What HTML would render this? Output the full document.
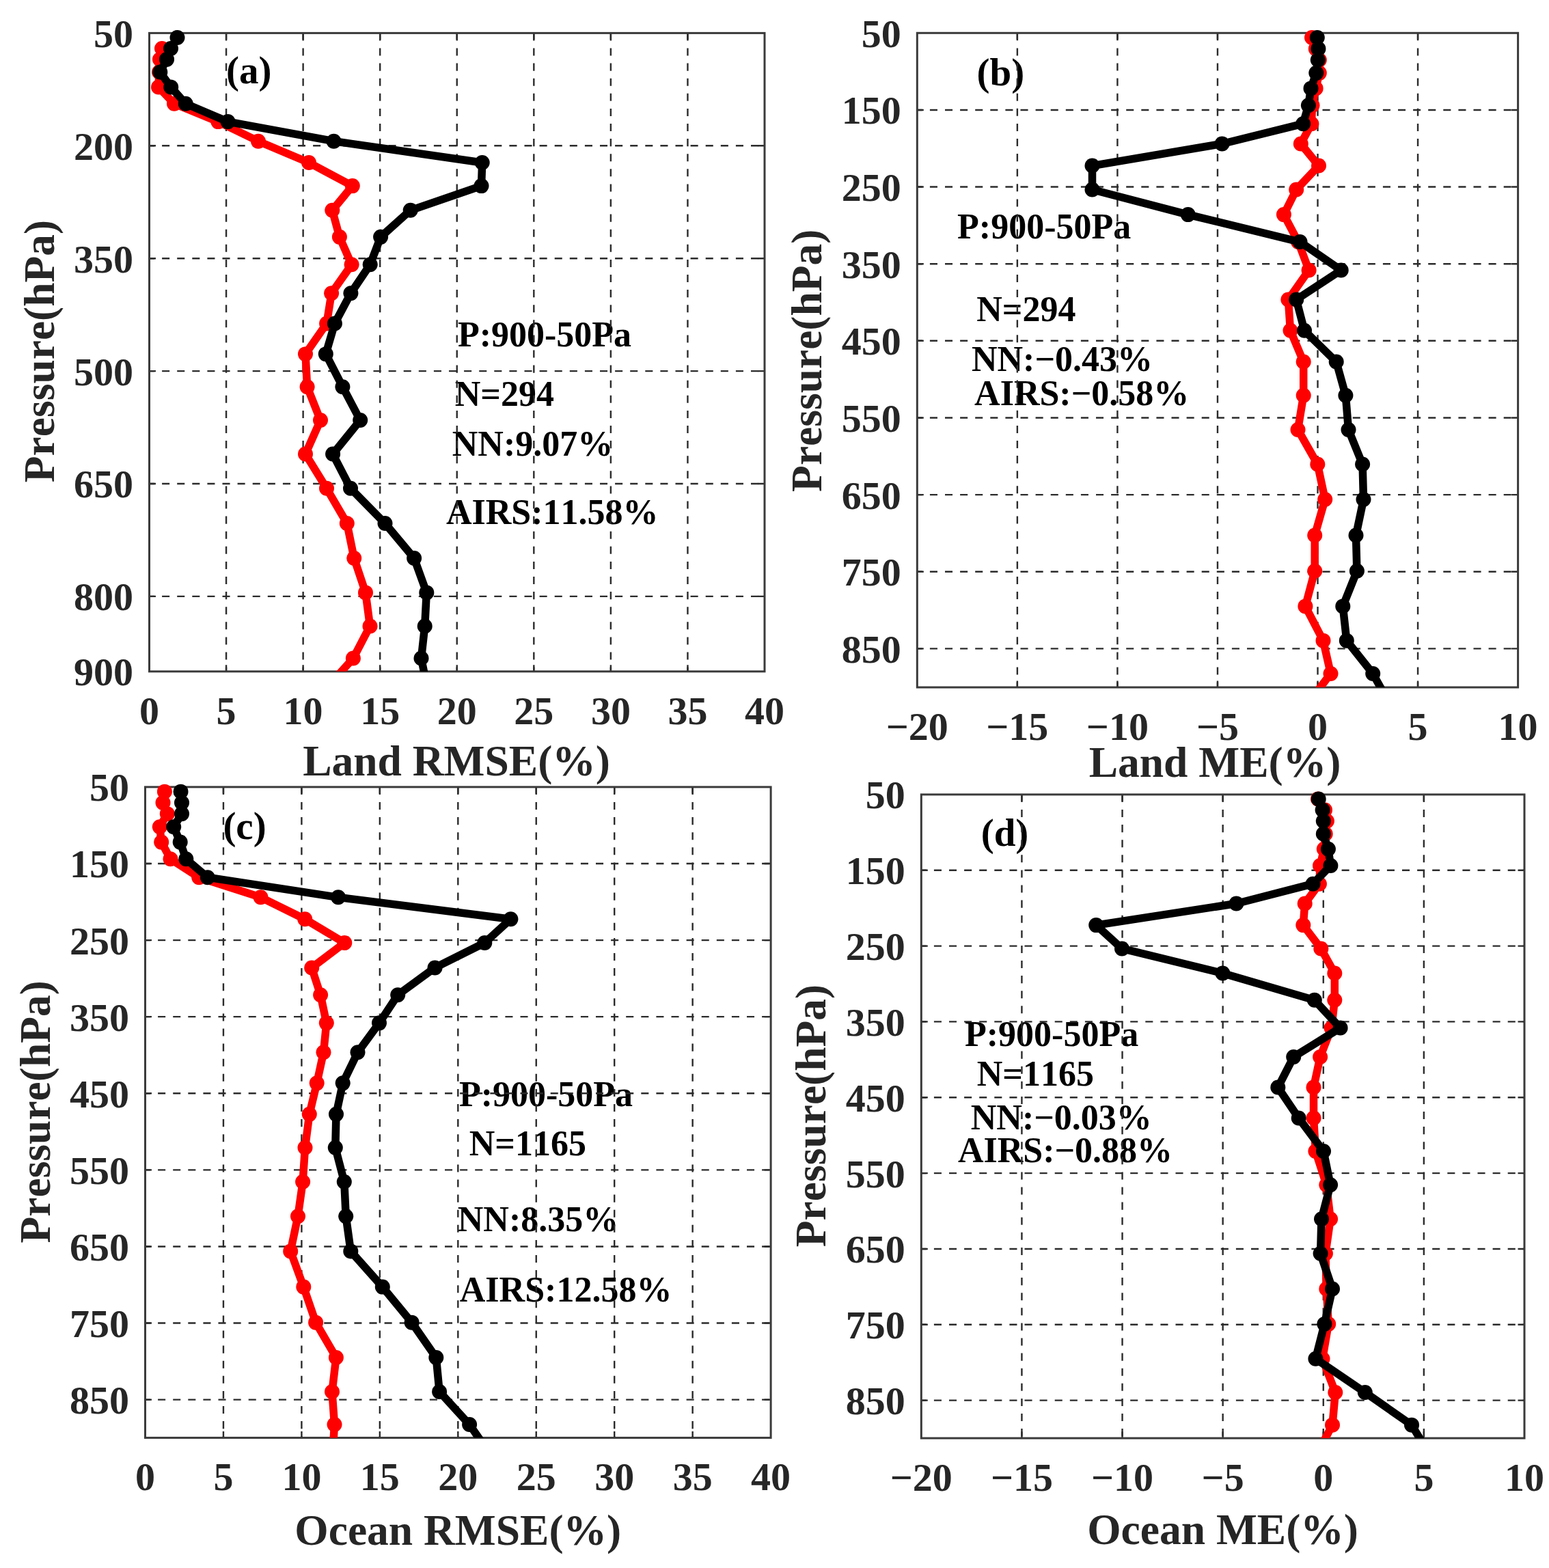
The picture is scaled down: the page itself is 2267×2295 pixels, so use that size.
<!DOCTYPE html>
<html><head><meta charset="utf-8"><title>Figure</title><style>
html,body{margin:0;padding:0;background:#fff;}
body{width:2267px;height:2295px;overflow:hidden;}
svg{display:block;}
text{font-family:"Liberation Serif","Times New Roman",serif;font-weight:bold;font-kerning:none;}
.ann{font-size:52px;fill:#000;}
.pl{font-size:57px;fill:#000;}
.tk{font-size:58px;fill:#262626;}
.ax{font-size:63.5px;fill:#262626;}
.grid{stroke:#2b2b2b;stroke-width:2.4;stroke-dasharray:11.05 11.05;fill:none;}
.gh{stroke-dashoffset:3.5;}
.tick{stroke:#2b2b2b;stroke-width:2.4;fill:none;}
.box{stroke:#3a3a3a;stroke-width:3;fill:none;}
</style></head>
<body>
<svg width="2267" height="2295" viewBox="0 0 2267 2295">
<rect x="0" y="0" width="2267" height="2295" fill="#ffffff"/>
<defs>
<clipPath id="clipa"><rect x="218.5" y="48.4" width="900.5" height="934.4"/></clipPath>
<clipPath id="clipb"><rect x="1342.3" y="48.3" width="879.3" height="957.7"/></clipPath>
<clipPath id="clipc"><rect x="212.5" y="1151.9" width="915.6" height="952.5"/></clipPath>
<clipPath id="clipd"><rect x="1348.3" y="1162.9" width="882.7" height="942.1"/></clipPath>
</defs>
<g id="panela"><text x="669.91" y="506.7" class="ann">P:900-50Pa</text>
<text x="665.81" y="594.4" class="ann">N=294</text>
<text x="661.81" y="667" class="ann">NN:9.07%</text>
<text x="652.9" y="766.6" class="ann">AIRS:11.58%</text>
<text x="331.1" y="122.46" class="pl">(a)</text>
<line x1="331.06" y1="48.4" x2="331.06" y2="982.8" class="grid gv"/>
<line x1="443.62" y1="48.4" x2="443.62" y2="982.8" class="grid gv"/>
<line x1="556.19" y1="48.4" x2="556.19" y2="982.8" class="grid gv"/>
<line x1="668.75" y1="48.4" x2="668.75" y2="982.8" class="grid gv"/>
<line x1="781.31" y1="48.4" x2="781.31" y2="982.8" class="grid gv"/>
<line x1="893.88" y1="48.4" x2="893.88" y2="982.8" class="grid gv"/>
<line x1="1006.44" y1="48.4" x2="1006.44" y2="982.8" class="grid gv"/>
<line x1="218.5" y1="213.29" x2="1119" y2="213.29" class="grid gh"/>
<line x1="218.5" y1="378.19" x2="1119" y2="378.19" class="grid gh"/>
<line x1="218.5" y1="543.09" x2="1119" y2="543.09" class="grid gh"/>
<line x1="218.5" y1="707.98" x2="1119" y2="707.98" class="grid gh"/>
<line x1="218.5" y1="872.87" x2="1119" y2="872.87" class="grid gh"/>
<path d="M331.06 982.8V973.3M331.06 48.4V57.9M443.62 982.8V973.3M443.62 48.4V57.9M556.19 982.8V973.3M556.19 48.4V57.9M668.75 982.8V973.3M668.75 48.4V57.9M781.31 982.8V973.3M781.31 48.4V57.9M893.88 982.8V973.3M893.88 48.4V57.9M1006.44 982.8V973.3M1006.44 48.4V57.9M218.5 213.29H228M1119 213.29H1109.5M218.5 378.19H228M1119 378.19H1109.5M218.5 543.09H228M1119 543.09H1109.5M218.5 707.98H228M1119 707.98H1109.5M218.5 872.87H228M1119 872.87H1109.5" class="tick"/>
<rect x="218.5" y="48.4" width="900.5" height="934.4" class="box"/>
<polyline points="237,70.94 234,86.88 233,105.56 232,127.55 255,151.73 319.3,178.12 378,206.7 452,238.03 515.8,272.11 486.3,307.83 496.9,346.86 514.6,387.2 485.1,429.31 478.1,473.5 447,518.13 449.6,566.17 469,615.09 447,664.56 478,714.8 507.8,766.02 518.2,817.03 535,867.38 541.5,916.41 516.9,963.57 475,1010.29" fill="none" stroke="#ff0000" stroke-width="11.5" stroke-linejoin="round" clip-path="url(#clipa)"/>
<circle cx="237" cy="70.94" r="11" fill="#ff0000"/>
<circle cx="234" cy="86.88" r="11" fill="#ff0000"/>
<circle cx="233" cy="105.56" r="11" fill="#ff0000"/>
<circle cx="232" cy="127.55" r="11" fill="#ff0000"/>
<circle cx="255" cy="151.73" r="11" fill="#ff0000"/>
<circle cx="319.3" cy="178.12" r="11" fill="#ff0000"/>
<circle cx="378" cy="206.7" r="11" fill="#ff0000"/>
<circle cx="452" cy="238.03" r="11" fill="#ff0000"/>
<circle cx="515.8" cy="272.11" r="11" fill="#ff0000"/>
<circle cx="486.3" cy="307.83" r="11" fill="#ff0000"/>
<circle cx="496.9" cy="346.86" r="11" fill="#ff0000"/>
<circle cx="514.6" cy="387.2" r="11" fill="#ff0000"/>
<circle cx="485.1" cy="429.31" r="11" fill="#ff0000"/>
<circle cx="478.1" cy="473.5" r="11" fill="#ff0000"/>
<circle cx="447" cy="518.13" r="11" fill="#ff0000"/>
<circle cx="449.6" cy="566.17" r="11" fill="#ff0000"/>
<circle cx="469" cy="615.09" r="11" fill="#ff0000"/>
<circle cx="447" cy="664.56" r="11" fill="#ff0000"/>
<circle cx="478" cy="714.8" r="11" fill="#ff0000"/>
<circle cx="507.8" cy="766.02" r="11" fill="#ff0000"/>
<circle cx="518.2" cy="817.03" r="11" fill="#ff0000"/>
<circle cx="535" cy="867.38" r="11" fill="#ff0000"/>
<circle cx="541.5" cy="916.41" r="11" fill="#ff0000"/>
<circle cx="516.9" cy="963.57" r="11" fill="#ff0000"/>
<polyline points="259.5,55 250,70.94 244,86.88 234.3,105.56 250.2,127.55 271.7,151.73 333.5,178.12 488.5,206.7 705.7,238.03 704.5,272.11 600.7,307.83 557.1,346.86 541.7,387.2 513.4,429.31 489.9,473.5 476.8,518.13 501.4,566.17 527.2,615.09 487.1,664.56 513,714.8 563.5,766.02 606.1,817.03 624.3,867.38 621.7,916.41 616.5,963.57 626,1010.29" fill="none" stroke="#000000" stroke-width="11.5" stroke-linejoin="round" clip-path="url(#clipa)"/>
<circle cx="259.5" cy="55" r="11" fill="#000000"/>
<circle cx="250" cy="70.94" r="11" fill="#000000"/>
<circle cx="244" cy="86.88" r="11" fill="#000000"/>
<circle cx="234.3" cy="105.56" r="11" fill="#000000"/>
<circle cx="250.2" cy="127.55" r="11" fill="#000000"/>
<circle cx="271.7" cy="151.73" r="11" fill="#000000"/>
<circle cx="333.5" cy="178.12" r="11" fill="#000000"/>
<circle cx="488.5" cy="206.7" r="11" fill="#000000"/>
<circle cx="705.7" cy="238.03" r="11" fill="#000000"/>
<circle cx="704.5" cy="272.11" r="11" fill="#000000"/>
<circle cx="600.7" cy="307.83" r="11" fill="#000000"/>
<circle cx="557.1" cy="346.86" r="11" fill="#000000"/>
<circle cx="541.7" cy="387.2" r="11" fill="#000000"/>
<circle cx="513.4" cy="429.31" r="11" fill="#000000"/>
<circle cx="489.9" cy="473.5" r="11" fill="#000000"/>
<circle cx="476.8" cy="518.13" r="11" fill="#000000"/>
<circle cx="501.4" cy="566.17" r="11" fill="#000000"/>
<circle cx="527.2" cy="615.09" r="11" fill="#000000"/>
<circle cx="487.1" cy="664.56" r="11" fill="#000000"/>
<circle cx="513" cy="714.8" r="11" fill="#000000"/>
<circle cx="563.5" cy="766.02" r="11" fill="#000000"/>
<circle cx="606.1" cy="817.03" r="11" fill="#000000"/>
<circle cx="624.3" cy="867.38" r="11" fill="#000000"/>
<circle cx="621.7" cy="916.41" r="11" fill="#000000"/>
<circle cx="616.5" cy="963.57" r="11" fill="#000000"/>
<text x="195" y="68.9" class="tk" text-anchor="end">50</text>
<text x="195" y="233.79" class="tk" text-anchor="end">200</text>
<text x="195" y="398.69" class="tk" text-anchor="end">350</text>
<text x="195" y="563.59" class="tk" text-anchor="end">500</text>
<text x="195" y="728.48" class="tk" text-anchor="end">650</text>
<text x="195" y="893.37" class="tk" text-anchor="end">800</text>
<text x="195" y="1003.3" class="tk" text-anchor="end">900</text>
<text x="218.5" y="1059.8" class="tk" text-anchor="middle">0</text>
<text x="331.06" y="1059.8" class="tk" text-anchor="middle">5</text>
<text x="443.62" y="1059.8" class="tk" text-anchor="middle">10</text>
<text x="556.19" y="1059.8" class="tk" text-anchor="middle">15</text>
<text x="668.75" y="1059.8" class="tk" text-anchor="middle">20</text>
<text x="781.31" y="1059.8" class="tk" text-anchor="middle">25</text>
<text x="893.88" y="1059.8" class="tk" text-anchor="middle">30</text>
<text x="1006.44" y="1059.8" class="tk" text-anchor="middle">35</text>
<text x="1119" y="1059.8" class="tk" text-anchor="middle">40</text>
<text x="668.1" y="1134.9" class="ax" text-anchor="middle">Land RMSE(%)</text>
<text transform="translate(78.8,514) rotate(-90)" x="0" y="0" class="ax" text-anchor="middle">Pressure(hPa)</text></g>
<g id="panelb"><text x="1401.11" y="349.2" class="ann">P:900-50Pa</text>
<text x="1429.31" y="469.7" class="ann">N=294</text>
<text x="1422.01" y="543.1" class="ann">NN:−0.43%</text>
<text x="1426.1" y="593.4" class="ann">AIRS:−0.58%</text>
<text x="1429.5" y="125.46" class="pl">(b)</text>
<line x1="1488.85" y1="48.3" x2="1488.85" y2="1006" class="grid gv"/>
<line x1="1635.4" y1="48.3" x2="1635.4" y2="1006" class="grid gv"/>
<line x1="1781.95" y1="48.3" x2="1781.95" y2="1006" class="grid gv"/>
<line x1="1928.5" y1="48.3" x2="1928.5" y2="1006" class="grid gv"/>
<line x1="2075.05" y1="48.3" x2="2075.05" y2="1006" class="grid gv"/>
<line x1="1342.3" y1="160.93" x2="2221.6" y2="160.93" class="grid gh"/>
<line x1="1342.3" y1="273.56" x2="2221.6" y2="273.56" class="grid gh"/>
<line x1="1342.3" y1="386.19" x2="2221.6" y2="386.19" class="grid gh"/>
<line x1="1342.3" y1="498.82" x2="2221.6" y2="498.82" class="grid gh"/>
<line x1="1342.3" y1="611.45" x2="2221.6" y2="611.45" class="grid gh"/>
<line x1="1342.3" y1="724.08" x2="2221.6" y2="724.08" class="grid gh"/>
<line x1="1342.3" y1="836.71" x2="2221.6" y2="836.71" class="grid gh"/>
<line x1="1342.3" y1="949.34" x2="2221.6" y2="949.34" class="grid gh"/>
<path d="M1488.85 1006V996.5M1488.85 48.3V57.8M1635.4 1006V996.5M1635.4 48.3V57.8M1781.95 1006V996.5M1781.95 48.3V57.8M1928.5 1006V996.5M1928.5 48.3V57.8M2075.05 1006V996.5M2075.05 48.3V57.8M1342.3 160.93H1351.8M2221.6 160.93H2212.1M1342.3 273.56H1351.8M2221.6 273.56H2212.1M1342.3 386.19H1351.8M2221.6 386.19H2212.1M1342.3 498.82H1351.8M2221.6 498.82H2212.1M1342.3 611.45H1351.8M2221.6 611.45H2212.1M1342.3 724.08H1351.8M2221.6 724.08H2212.1M1342.3 836.71H1351.8M2221.6 836.71H2212.1M1342.3 949.34H1351.8M2221.6 949.34H2212.1" class="tick"/>
<rect x="1342.3" y="48.3" width="879.3" height="957.7" class="box"/>
<polyline points="1920,55.06 1925.8,71.39 1930.8,87.72 1930.8,106.87 1925.6,129.39 1920.5,154.17 1919.4,181.2 1903.8,210.49 1930,242.59 1897.2,277.5 1878.9,314.11 1900,354.09 1915.6,395.43 1885.4,438.56 1888.5,483.84 1907.7,529.57 1907.7,578.79 1899.5,628.91 1928.3,679.59 1939.2,731.06 1924.2,783.55 1924.2,835.81 1910.4,887.39 1936.5,937.63 1947.5,985.94 1911,1033.81" fill="none" stroke="#ff0000" stroke-width="11.5" stroke-linejoin="round" clip-path="url(#clipb)"/>
<circle cx="1920" cy="55.06" r="11" fill="#ff0000"/>
<circle cx="1925.8" cy="71.39" r="11" fill="#ff0000"/>
<circle cx="1930.8" cy="87.72" r="11" fill="#ff0000"/>
<circle cx="1930.8" cy="106.87" r="11" fill="#ff0000"/>
<circle cx="1925.6" cy="129.39" r="11" fill="#ff0000"/>
<circle cx="1920.5" cy="154.17" r="11" fill="#ff0000"/>
<circle cx="1919.4" cy="181.2" r="11" fill="#ff0000"/>
<circle cx="1903.8" cy="210.49" r="11" fill="#ff0000"/>
<circle cx="1930" cy="242.59" r="11" fill="#ff0000"/>
<circle cx="1897.2" cy="277.5" r="11" fill="#ff0000"/>
<circle cx="1878.9" cy="314.11" r="11" fill="#ff0000"/>
<circle cx="1900" cy="354.09" r="11" fill="#ff0000"/>
<circle cx="1915.6" cy="395.43" r="11" fill="#ff0000"/>
<circle cx="1885.4" cy="438.56" r="11" fill="#ff0000"/>
<circle cx="1888.5" cy="483.84" r="11" fill="#ff0000"/>
<circle cx="1907.7" cy="529.57" r="11" fill="#ff0000"/>
<circle cx="1907.7" cy="578.79" r="11" fill="#ff0000"/>
<circle cx="1899.5" cy="628.91" r="11" fill="#ff0000"/>
<circle cx="1928.3" cy="679.59" r="11" fill="#ff0000"/>
<circle cx="1939.2" cy="731.06" r="11" fill="#ff0000"/>
<circle cx="1924.2" cy="783.55" r="11" fill="#ff0000"/>
<circle cx="1924.2" cy="835.81" r="11" fill="#ff0000"/>
<circle cx="1910.4" cy="887.39" r="11" fill="#ff0000"/>
<circle cx="1936.5" cy="937.63" r="11" fill="#ff0000"/>
<circle cx="1947.5" cy="985.94" r="11" fill="#ff0000"/>
<polyline points="1927.8,55.06 1929.4,71.39 1928.8,87.72 1926.3,106.87 1918.5,129.39 1914.9,154.17 1907.1,181.2 1788.5,210.49 1598.5,242.59 1598.5,277.5 1738.7,314.11 1902.5,354.09 1962.7,395.43 1897.2,438.56 1909,483.84 1955.7,529.57 1969.4,578.79 1973.5,628.91 1994.1,679.59 1995.5,731.06 1984.5,783.55 1985.9,835.81 1965.3,887.39 1970.8,937.63 2009.2,985.94 2035.8,1033.81" fill="none" stroke="#000000" stroke-width="11.5" stroke-linejoin="round" clip-path="url(#clipb)"/>
<circle cx="1927.8" cy="55.06" r="11" fill="#000000"/>
<circle cx="1929.4" cy="71.39" r="11" fill="#000000"/>
<circle cx="1928.8" cy="87.72" r="11" fill="#000000"/>
<circle cx="1926.3" cy="106.87" r="11" fill="#000000"/>
<circle cx="1918.5" cy="129.39" r="11" fill="#000000"/>
<circle cx="1914.9" cy="154.17" r="11" fill="#000000"/>
<circle cx="1907.1" cy="181.2" r="11" fill="#000000"/>
<circle cx="1788.5" cy="210.49" r="11" fill="#000000"/>
<circle cx="1598.5" cy="242.59" r="11" fill="#000000"/>
<circle cx="1598.5" cy="277.5" r="11" fill="#000000"/>
<circle cx="1738.7" cy="314.11" r="11" fill="#000000"/>
<circle cx="1902.5" cy="354.09" r="11" fill="#000000"/>
<circle cx="1962.7" cy="395.43" r="11" fill="#000000"/>
<circle cx="1897.2" cy="438.56" r="11" fill="#000000"/>
<circle cx="1909" cy="483.84" r="11" fill="#000000"/>
<circle cx="1955.7" cy="529.57" r="11" fill="#000000"/>
<circle cx="1969.4" cy="578.79" r="11" fill="#000000"/>
<circle cx="1973.5" cy="628.91" r="11" fill="#000000"/>
<circle cx="1994.1" cy="679.59" r="11" fill="#000000"/>
<circle cx="1995.5" cy="731.06" r="11" fill="#000000"/>
<circle cx="1984.5" cy="783.55" r="11" fill="#000000"/>
<circle cx="1985.9" cy="835.81" r="11" fill="#000000"/>
<circle cx="1965.3" cy="887.39" r="11" fill="#000000"/>
<circle cx="1970.8" cy="937.63" r="11" fill="#000000"/>
<circle cx="2009.2" cy="985.94" r="11" fill="#000000"/>
<text x="1318.8" y="68.8" class="tk" text-anchor="end">50</text>
<text x="1318.8" y="181.43" class="tk" text-anchor="end">150</text>
<text x="1318.8" y="294.06" class="tk" text-anchor="end">250</text>
<text x="1318.8" y="406.69" class="tk" text-anchor="end">350</text>
<text x="1318.8" y="519.32" class="tk" text-anchor="end">450</text>
<text x="1318.8" y="631.95" class="tk" text-anchor="end">550</text>
<text x="1318.8" y="744.58" class="tk" text-anchor="end">650</text>
<text x="1318.8" y="857.21" class="tk" text-anchor="end">750</text>
<text x="1318.8" y="969.84" class="tk" text-anchor="end">850</text>
<text x="1342.3" y="1083" class="tk" text-anchor="middle">−20</text>
<text x="1488.85" y="1083" class="tk" text-anchor="middle">−15</text>
<text x="1635.4" y="1083" class="tk" text-anchor="middle">−10</text>
<text x="1781.95" y="1083" class="tk" text-anchor="middle">−5</text>
<text x="1928.5" y="1083" class="tk" text-anchor="middle">0</text>
<text x="2075.05" y="1083" class="tk" text-anchor="middle">5</text>
<text x="2221.6" y="1083" class="tk" text-anchor="middle">10</text>
<text x="1778" y="1137.3" class="ax" text-anchor="middle">Land ME(%)</text>
<text transform="translate(1201.8,527.7) rotate(-90)" x="0" y="0" class="ax" text-anchor="middle">Pressure(hPa)</text></g>
<g id="panelc"><text x="671.91" y="1618.8" class="ann">P:900-50Pa</text>
<text x="686.81" y="1690.5" class="ann">N=1165</text>
<text x="669.81" y="1802" class="ann">NN:8.35%</text>
<text x="672.8" y="1904.6" class="ann">AIRS:12.58%</text>
<text x="326.4" y="1227.66" class="pl">(c)</text>
<line x1="326.95" y1="1151.9" x2="326.95" y2="2104.4" class="grid gv"/>
<line x1="441.4" y1="1151.9" x2="441.4" y2="2104.4" class="grid gv"/>
<line x1="555.85" y1="1151.9" x2="555.85" y2="2104.4" class="grid gv"/>
<line x1="670.3" y1="1151.9" x2="670.3" y2="2104.4" class="grid gv"/>
<line x1="784.75" y1="1151.9" x2="784.75" y2="2104.4" class="grid gv"/>
<line x1="899.2" y1="1151.9" x2="899.2" y2="2104.4" class="grid gv"/>
<line x1="1013.65" y1="1151.9" x2="1013.65" y2="2104.4" class="grid gv"/>
<line x1="212.5" y1="1263.99" x2="1128.1" y2="1263.99" class="grid gh"/>
<line x1="212.5" y1="1376.08" x2="1128.1" y2="1376.08" class="grid gh"/>
<line x1="212.5" y1="1488.17" x2="1128.1" y2="1488.17" class="grid gh"/>
<line x1="212.5" y1="1600.26" x2="1128.1" y2="1600.26" class="grid gh"/>
<line x1="212.5" y1="1712.35" x2="1128.1" y2="1712.35" class="grid gh"/>
<line x1="212.5" y1="1824.44" x2="1128.1" y2="1824.44" class="grid gh"/>
<line x1="212.5" y1="1936.53" x2="1128.1" y2="1936.53" class="grid gh"/>
<line x1="212.5" y1="2048.62" x2="1128.1" y2="2048.62" class="grid gh"/>
<path d="M326.95 2104.4V2094.9M326.95 1151.9V1161.4M441.4 2104.4V2094.9M441.4 1151.9V1161.4M555.85 2104.4V2094.9M555.85 1151.9V1161.4M670.3 2104.4V2094.9M670.3 1151.9V1161.4M784.75 2104.4V2094.9M784.75 1151.9V1161.4M899.2 2104.4V2094.9M899.2 1151.9V1161.4M1013.65 2104.4V2094.9M1013.65 1151.9V1161.4M212.5 1263.99H222M1128.1 1263.99H1118.6M212.5 1376.08H222M1128.1 1376.08H1118.6M212.5 1488.17H222M1128.1 1488.17H1118.6M212.5 1600.26H222M1128.1 1600.26H1118.6M212.5 1712.35H222M1128.1 1712.35H1118.6M212.5 1824.44H222M1128.1 1824.44H1118.6M212.5 1936.53H222M1128.1 1936.53H1118.6M212.5 2048.62H222M1128.1 2048.62H1118.6" class="tick"/>
<rect x="212.5" y="1151.9" width="915.6" height="952.5" class="box"/>
<polyline points="240.9,1158.63 238.5,1174.88 244.8,1191.13 233.8,1210.19 236.2,1232.6 249.5,1257.26 291.2,1284.17 381.5,1313.31 446.2,1345.26 504.3,1380 456.2,1416.43 469.1,1456.22 477.8,1497.36 473.5,1540.29 463.7,1585.35 452.8,1630.86 446.5,1679.84 443.1,1729.72 436,1780.16 425.2,1831.39 444.3,1883.62 462.1,1935.63 491.9,1986.97 486,2036.96 489.5,2085.05 486.5,2132.69" fill="none" stroke="#ff0000" stroke-width="11.5" stroke-linejoin="round" clip-path="url(#clipc)"/>
<circle cx="240.9" cy="1158.63" r="11" fill="#ff0000"/>
<circle cx="238.5" cy="1174.88" r="11" fill="#ff0000"/>
<circle cx="244.8" cy="1191.13" r="11" fill="#ff0000"/>
<circle cx="233.8" cy="1210.19" r="11" fill="#ff0000"/>
<circle cx="236.2" cy="1232.6" r="11" fill="#ff0000"/>
<circle cx="249.5" cy="1257.26" r="11" fill="#ff0000"/>
<circle cx="291.2" cy="1284.17" r="11" fill="#ff0000"/>
<circle cx="381.5" cy="1313.31" r="11" fill="#ff0000"/>
<circle cx="446.2" cy="1345.26" r="11" fill="#ff0000"/>
<circle cx="504.3" cy="1380" r="11" fill="#ff0000"/>
<circle cx="456.2" cy="1416.43" r="11" fill="#ff0000"/>
<circle cx="469.1" cy="1456.22" r="11" fill="#ff0000"/>
<circle cx="477.8" cy="1497.36" r="11" fill="#ff0000"/>
<circle cx="473.5" cy="1540.29" r="11" fill="#ff0000"/>
<circle cx="463.7" cy="1585.35" r="11" fill="#ff0000"/>
<circle cx="452.8" cy="1630.86" r="11" fill="#ff0000"/>
<circle cx="446.5" cy="1679.84" r="11" fill="#ff0000"/>
<circle cx="443.1" cy="1729.72" r="11" fill="#ff0000"/>
<circle cx="436" cy="1780.16" r="11" fill="#ff0000"/>
<circle cx="425.2" cy="1831.39" r="11" fill="#ff0000"/>
<circle cx="444.3" cy="1883.62" r="11" fill="#ff0000"/>
<circle cx="462.1" cy="1935.63" r="11" fill="#ff0000"/>
<circle cx="491.9" cy="1986.97" r="11" fill="#ff0000"/>
<circle cx="486" cy="2036.96" r="11" fill="#ff0000"/>
<circle cx="489.5" cy="2085.05" r="11" fill="#ff0000"/>
<polyline points="264.5,1158.63 266,1174.88 266,1191.13 254.2,1210.19 263.7,1232.6 272.3,1257.26 303.8,1284.17 495,1313.31 747.4,1345.26 709.3,1380 636.5,1416.43 582.2,1456.22 555,1497.36 523.5,1540.29 501.7,1585.35 492,1630.86 490.8,1679.84 503.8,1729.72 506.2,1780.16 513.3,1831.39 559.8,1883.62 602.6,1935.63 638.3,1986.97 643.1,2036.96 687.1,2085.05 720.2,2132.69" fill="none" stroke="#000000" stroke-width="11.5" stroke-linejoin="round" clip-path="url(#clipc)"/>
<circle cx="264.5" cy="1158.63" r="11" fill="#000000"/>
<circle cx="266" cy="1174.88" r="11" fill="#000000"/>
<circle cx="266" cy="1191.13" r="11" fill="#000000"/>
<circle cx="254.2" cy="1210.19" r="11" fill="#000000"/>
<circle cx="263.7" cy="1232.6" r="11" fill="#000000"/>
<circle cx="272.3" cy="1257.26" r="11" fill="#000000"/>
<circle cx="303.8" cy="1284.17" r="11" fill="#000000"/>
<circle cx="495" cy="1313.31" r="11" fill="#000000"/>
<circle cx="747.4" cy="1345.26" r="11" fill="#000000"/>
<circle cx="709.3" cy="1380" r="11" fill="#000000"/>
<circle cx="636.5" cy="1416.43" r="11" fill="#000000"/>
<circle cx="582.2" cy="1456.22" r="11" fill="#000000"/>
<circle cx="555" cy="1497.36" r="11" fill="#000000"/>
<circle cx="523.5" cy="1540.29" r="11" fill="#000000"/>
<circle cx="501.7" cy="1585.35" r="11" fill="#000000"/>
<circle cx="492" cy="1630.86" r="11" fill="#000000"/>
<circle cx="490.8" cy="1679.84" r="11" fill="#000000"/>
<circle cx="503.8" cy="1729.72" r="11" fill="#000000"/>
<circle cx="506.2" cy="1780.16" r="11" fill="#000000"/>
<circle cx="513.3" cy="1831.39" r="11" fill="#000000"/>
<circle cx="559.8" cy="1883.62" r="11" fill="#000000"/>
<circle cx="602.6" cy="1935.63" r="11" fill="#000000"/>
<circle cx="638.3" cy="1986.97" r="11" fill="#000000"/>
<circle cx="643.1" cy="2036.96" r="11" fill="#000000"/>
<circle cx="687.1" cy="2085.05" r="11" fill="#000000"/>
<text x="189" y="1172.4" class="tk" text-anchor="end">50</text>
<text x="189" y="1284.49" class="tk" text-anchor="end">150</text>
<text x="189" y="1396.58" class="tk" text-anchor="end">250</text>
<text x="189" y="1508.67" class="tk" text-anchor="end">350</text>
<text x="189" y="1620.76" class="tk" text-anchor="end">450</text>
<text x="189" y="1732.85" class="tk" text-anchor="end">550</text>
<text x="189" y="1844.94" class="tk" text-anchor="end">650</text>
<text x="189" y="1957.03" class="tk" text-anchor="end">750</text>
<text x="189" y="2069.12" class="tk" text-anchor="end">850</text>
<text x="212.5" y="2181.4" class="tk" text-anchor="middle">0</text>
<text x="326.95" y="2181.4" class="tk" text-anchor="middle">5</text>
<text x="441.4" y="2181.4" class="tk" text-anchor="middle">10</text>
<text x="555.85" y="2181.4" class="tk" text-anchor="middle">15</text>
<text x="670.3" y="2181.4" class="tk" text-anchor="middle">20</text>
<text x="784.75" y="2181.4" class="tk" text-anchor="middle">25</text>
<text x="899.2" y="2181.4" class="tk" text-anchor="middle">30</text>
<text x="1013.65" y="2181.4" class="tk" text-anchor="middle">35</text>
<text x="1128.1" y="2181.4" class="tk" text-anchor="middle">40</text>
<text x="670.3" y="2261.2" class="ax" text-anchor="middle">Ocean RMSE(%)</text>
<text transform="translate(72.6,1627.3) rotate(-90)" x="0" y="0" class="ax" text-anchor="middle">Pressure(hPa)</text></g>
<g id="paneld"><text x="1412.01" y="1530.8" class="ann">P:900-50Pa</text>
<text x="1429.81" y="1588.5" class="ann">N=1165</text>
<text x="1420.81" y="1653.3" class="ann">NN:−0.03%</text>
<text x="1401.9" y="1701.1" class="ann">AIRS:−0.88%</text>
<text x="1435.7" y="1237.66" class="pl">(d)</text>
<line x1="1495.42" y1="1162.9" x2="1495.42" y2="2105" class="grid gv"/>
<line x1="1642.53" y1="1162.9" x2="1642.53" y2="2105" class="grid gv"/>
<line x1="1789.65" y1="1162.9" x2="1789.65" y2="2105" class="grid gv"/>
<line x1="1936.77" y1="1162.9" x2="1936.77" y2="2105" class="grid gv"/>
<line x1="2083.88" y1="1162.9" x2="2083.88" y2="2105" class="grid gv"/>
<line x1="1348.3" y1="1273.74" x2="2231" y2="1273.74" class="grid gh"/>
<line x1="1348.3" y1="1384.58" x2="2231" y2="1384.58" class="grid gh"/>
<line x1="1348.3" y1="1495.42" x2="2231" y2="1495.42" class="grid gh"/>
<line x1="1348.3" y1="1606.26" x2="2231" y2="1606.26" class="grid gh"/>
<line x1="1348.3" y1="1717.1" x2="2231" y2="1717.1" class="grid gh"/>
<line x1="1348.3" y1="1827.94" x2="2231" y2="1827.94" class="grid gh"/>
<line x1="1348.3" y1="1938.78" x2="2231" y2="1938.78" class="grid gh"/>
<line x1="1348.3" y1="2049.62" x2="2231" y2="2049.62" class="grid gh"/>
<path d="M1495.42 2105V2095.5M1495.42 1162.9V1172.4M1642.53 2105V2095.5M1642.53 1162.9V1172.4M1789.65 2105V2095.5M1789.65 1162.9V1172.4M1936.77 2105V2095.5M1936.77 1162.9V1172.4M2083.88 2105V2095.5M2083.88 1162.9V1172.4M1348.3 1273.74H1357.8M2231 1273.74H2221.5M1348.3 1384.58H1357.8M2231 1384.58H2221.5M1348.3 1495.42H1357.8M2231 1495.42H2221.5M1348.3 1606.26H1357.8M2231 1606.26H2221.5M1348.3 1717.1H1357.8M2231 1717.1H2221.5M1348.3 1827.94H1357.8M2231 1827.94H2221.5M1348.3 1938.78H1357.8M2231 1938.78H2221.5M1348.3 2049.62H1357.8M2231 2049.62H2221.5" class="tick"/>
<rect x="1348.3" y="1162.9" width="882.7" height="942.1" class="box"/>
<polyline points="1929,1169.55 1939,1185.62 1941.9,1201.69 1939.7,1220.54 1937.8,1242.7 1932,1267.09 1930.9,1293.69 1909.7,1322.51 1907.3,1354.1 1933.3,1388.46 1953.3,1424.48 1953.3,1463.83 1948.6,1504.51 1932.1,1546.96 1922.5,1591.52 1922.5,1636.52 1925.4,1684.96 1941.3,1734.28 1947.1,1784.16 1939.9,1834.81 1941.3,1886.46 1944.2,1937.89 1935.5,1988.66 1954.3,2038.09 1950,2085.64 1925,2132.75" fill="none" stroke="#ff0000" stroke-width="11.5" stroke-linejoin="round" clip-path="url(#clipd)"/>
<circle cx="1929" cy="1169.55" r="11" fill="#ff0000"/>
<circle cx="1939" cy="1185.62" r="11" fill="#ff0000"/>
<circle cx="1941.9" cy="1201.69" r="11" fill="#ff0000"/>
<circle cx="1939.7" cy="1220.54" r="11" fill="#ff0000"/>
<circle cx="1937.8" cy="1242.7" r="11" fill="#ff0000"/>
<circle cx="1932" cy="1267.09" r="11" fill="#ff0000"/>
<circle cx="1930.9" cy="1293.69" r="11" fill="#ff0000"/>
<circle cx="1909.7" cy="1322.51" r="11" fill="#ff0000"/>
<circle cx="1907.3" cy="1354.1" r="11" fill="#ff0000"/>
<circle cx="1933.3" cy="1388.46" r="11" fill="#ff0000"/>
<circle cx="1953.3" cy="1424.48" r="11" fill="#ff0000"/>
<circle cx="1953.3" cy="1463.83" r="11" fill="#ff0000"/>
<circle cx="1948.6" cy="1504.51" r="11" fill="#ff0000"/>
<circle cx="1932.1" cy="1546.96" r="11" fill="#ff0000"/>
<circle cx="1922.5" cy="1591.52" r="11" fill="#ff0000"/>
<circle cx="1922.5" cy="1636.52" r="11" fill="#ff0000"/>
<circle cx="1925.4" cy="1684.96" r="11" fill="#ff0000"/>
<circle cx="1941.3" cy="1734.28" r="11" fill="#ff0000"/>
<circle cx="1947.1" cy="1784.16" r="11" fill="#ff0000"/>
<circle cx="1939.9" cy="1834.81" r="11" fill="#ff0000"/>
<circle cx="1941.3" cy="1886.46" r="11" fill="#ff0000"/>
<circle cx="1944.2" cy="1937.89" r="11" fill="#ff0000"/>
<circle cx="1935.5" cy="1988.66" r="11" fill="#ff0000"/>
<circle cx="1954.3" cy="2038.09" r="11" fill="#ff0000"/>
<circle cx="1950" cy="2085.64" r="11" fill="#ff0000"/>
<polyline points="1929.7,1169.55 1935.6,1185.62 1936.8,1201.69 1936.8,1220.54 1943.9,1242.7 1947.4,1267.09 1921.5,1293.69 1809.4,1322.51 1604.2,1354.1 1642,1388.46 1789.4,1424.48 1923.8,1463.83 1961.6,1504.51 1893.2,1546.96 1870.3,1591.52 1900.7,1636.52 1937,1684.96 1947.1,1734.28 1934,1784.16 1932.6,1834.81 1950,1886.46 1938.4,1937.89 1925.4,1988.66 1997.8,2038.09 2066,2085.64 2094.5,2132.75" fill="none" stroke="#000000" stroke-width="11.5" stroke-linejoin="round" clip-path="url(#clipd)"/>
<circle cx="1929.7" cy="1169.55" r="11" fill="#000000"/>
<circle cx="1935.6" cy="1185.62" r="11" fill="#000000"/>
<circle cx="1936.8" cy="1201.69" r="11" fill="#000000"/>
<circle cx="1936.8" cy="1220.54" r="11" fill="#000000"/>
<circle cx="1943.9" cy="1242.7" r="11" fill="#000000"/>
<circle cx="1947.4" cy="1267.09" r="11" fill="#000000"/>
<circle cx="1921.5" cy="1293.69" r="11" fill="#000000"/>
<circle cx="1809.4" cy="1322.51" r="11" fill="#000000"/>
<circle cx="1604.2" cy="1354.1" r="11" fill="#000000"/>
<circle cx="1642" cy="1388.46" r="11" fill="#000000"/>
<circle cx="1789.4" cy="1424.48" r="11" fill="#000000"/>
<circle cx="1923.8" cy="1463.83" r="11" fill="#000000"/>
<circle cx="1961.6" cy="1504.51" r="11" fill="#000000"/>
<circle cx="1893.2" cy="1546.96" r="11" fill="#000000"/>
<circle cx="1870.3" cy="1591.52" r="11" fill="#000000"/>
<circle cx="1900.7" cy="1636.52" r="11" fill="#000000"/>
<circle cx="1937" cy="1684.96" r="11" fill="#000000"/>
<circle cx="1947.1" cy="1734.28" r="11" fill="#000000"/>
<circle cx="1934" cy="1784.16" r="11" fill="#000000"/>
<circle cx="1932.6" cy="1834.81" r="11" fill="#000000"/>
<circle cx="1950" cy="1886.46" r="11" fill="#000000"/>
<circle cx="1938.4" cy="1937.89" r="11" fill="#000000"/>
<circle cx="1925.4" cy="1988.66" r="11" fill="#000000"/>
<circle cx="1997.8" cy="2038.09" r="11" fill="#000000"/>
<circle cx="2066" cy="2085.64" r="11" fill="#000000"/>
<text x="1324.8" y="1183.4" class="tk" text-anchor="end">50</text>
<text x="1324.8" y="1294.24" class="tk" text-anchor="end">150</text>
<text x="1324.8" y="1405.08" class="tk" text-anchor="end">250</text>
<text x="1324.8" y="1515.92" class="tk" text-anchor="end">350</text>
<text x="1324.8" y="1626.76" class="tk" text-anchor="end">450</text>
<text x="1324.8" y="1737.6" class="tk" text-anchor="end">550</text>
<text x="1324.8" y="1848.44" class="tk" text-anchor="end">650</text>
<text x="1324.8" y="1959.28" class="tk" text-anchor="end">750</text>
<text x="1324.8" y="2070.12" class="tk" text-anchor="end">850</text>
<text x="1348.3" y="2182" class="tk" text-anchor="middle">−20</text>
<text x="1495.42" y="2182" class="tk" text-anchor="middle">−15</text>
<text x="1642.53" y="2182" class="tk" text-anchor="middle">−10</text>
<text x="1789.65" y="2182" class="tk" text-anchor="middle">−5</text>
<text x="1936.77" y="2182" class="tk" text-anchor="middle">0</text>
<text x="2083.88" y="2182" class="tk" text-anchor="middle">5</text>
<text x="2231" y="2182" class="tk" text-anchor="middle">10</text>
<text x="1789.6" y="2259.7" class="ax" text-anchor="middle">Ocean ME(%)</text>
<text transform="translate(1208.4,1633) rotate(-90)" x="0" y="0" class="ax" text-anchor="middle">Pressure(hPa)</text></g>
</svg>
</body></html>
